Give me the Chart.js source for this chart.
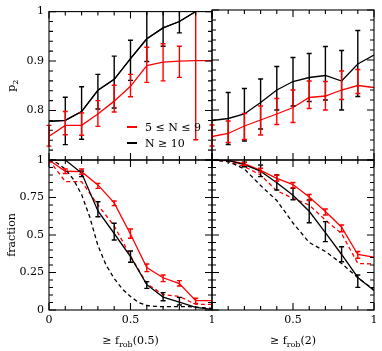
<!DOCTYPE html>
<html><head><meta charset="utf-8">
<script src="https://cdn.jsdelivr.net/npm/chart.js@4.4.1/dist/chart.umd.min.js"></script>
<style>
html,body{margin:0;padding:0;background:#fff;}
#wrap{position:relative;width:382px;height:351px;overflow:hidden;}
#wrap canvas{position:absolute;left:0;top:0;width:382px;height:351px;}
</style></head><body>
<div id="wrap">
<canvas id="cTL" width="382" height="351"></canvas>
<canvas id="cTR" width="382" height="351"></canvas>
<canvas id="cBL" width="382" height="351"></canvas>
<canvas id="cBR" width="382" height="351"></canvas>
</div>
<script>
// ---------- data ----------
const xGrid = [0, 0.1, 0.2, 0.3, 0.4, 0.5, 0.6, 0.7, 0.8, 0.9, 1.0];
const xFine = [0, 0.05, 0.1, 0.15, 0.2, 0.25, 0.3, 0.35, 0.4, 0.45, 0.5, 0.55, 0.6, 0.65, 0.7, 0.75, 0.8, 0.85, 0.9, 0.95, 1.0];
const legendLabels = ['5 \u2264 N \u2264 9', 'N \u2265 10'];

// top-left: p2 vs f_rob(0.5)
const p2Red05   = [0.748, 0.770, 0.770, 0.793, 0.819, 0.849, 0.891, 0.898, 0.900, 0.901, 0.901];
const p2Red05Lo = [0.728, 0.751, 0.750, 0.768, 0.797, 0.828, 0.857, 0.860, 0.867, 0.741, null];
const p2Red05Hi = [0.770, 0.798, 0.795, 0.820, 0.851, 0.873, 0.928, 0.935, 0.930, 1.060, null];
const p2Blk05   = [0.778, 0.780, 0.798, 0.841, 0.863, 0.905, 0.945, 0.967, 0.980, 1.000, 1.030];
const p2Blk05Lo = [null, 0.731, 0.742, 0.803, 0.805, 0.861, 0.899, 0.930, 0.957, null, null];
const p2Blk05Hi = [null, 0.827, 0.848, 0.873, 0.910, 0.942, 1.050, 1.050, 1.050, null, null];

// top-right: p2 vs f_rob(2)
const p2Red2   = [0.747, 0.753, 0.768, 0.780, 0.792, 0.805, 0.825, 0.828, 0.840, 0.849, 0.845];
const p2Red2Lo = [0.728, 0.735, 0.741, 0.750, 0.771, 0.775, 0.803, 0.800, 0.821, 0.833, null];
const p2Red2Hi = [0.770, 0.778, 0.793, 0.808, 0.823, 0.840, 0.858, 0.857, 0.878, 0.881, null];
const p2Blk2   = [0.779, 0.783, 0.792, 0.815, 0.840, 0.857, 0.865, 0.869, 0.858, 0.892, 0.910];
const p2Blk2Lo = [null, 0.731, 0.738, 0.762, 0.800, 0.808, 0.817, 0.820, 0.800, 0.827, null];
const p2Blk2Hi = [null, 0.835, 0.843, 0.862, 0.887, 0.905, 0.913, 0.927, 0.919, 0.959, null];

// bottom-left: fraction vs f_rob(0.5)
const fracRed05     = [1.0, 0.925, 0.922, 0.834, 0.714, 0.505, 0.283, 0.215, 0.176, 0.062, 0.062];
const fracRed05Lo   = [null, 0.910, 0.905, 0.811, 0.696, 0.478, 0.256, 0.189, 0.160, 0.044, null];
const fracRed05Hi   = [null, 0.940, 0.940, 0.844, 0.727, 0.540, 0.307, 0.233, 0.196, 0.078, null];
const fracRed05Dash = [1.0, 0.856, 0.856, 0.700, 0.560, 0.360, 0.175, 0.103, 0.090, 0.038, 0.038];
const fracBlk05     = [1.0, 1.0, 0.913, 0.660, 0.510, 0.356, 0.169, 0.086, 0.053, 0.018, 0.004];
const fracBlk05Lo   = [null, null, 0.889, 0.622, 0.467, 0.318, 0.144, 0.062, 0.033, null, null];
const fracBlk05Hi   = [null, null, 0.927, 0.722, 0.578, 0.393, 0.189, 0.116, 0.084, null, null];
const fracBlk05Dash = [1.0, 0.98, 0.94, 0.87, 0.77, 0.62, 0.43, 0.30, 0.21, 0.14, 0.09, 0.05, 0.03, 0.024, 0.022, 0.022, 0.022, 0.022, 0.02, 0.015, 0.01];

// bottom-right: fraction vs f_rob(2)
const fracRed2     = [1.0, 0.996, 0.975, 0.931, 0.878, 0.836, 0.753, 0.656, 0.552, 0.370, 0.353];
const fracRed2Lo   = [null, null, 0.965, 0.920, 0.860, 0.815, 0.730, 0.633, 0.522, 0.345, null];
const fracRed2Hi   = [null, null, 0.985, 0.945, 0.900, 0.850, 0.770, 0.673, 0.567, 0.390, null];
const fracRed2Dash = [1.0, 0.99, 0.956, 0.90, 0.795, 0.745, 0.70, 0.60, 0.51, 0.31, 0.307];
const fracBlk2     = [1.0, 0.997, 0.969, 0.925, 0.848, 0.765, 0.658, 0.516, 0.370, 0.217, 0.130];
const fracBlk2Lo   = [null, null, 0.955, 0.889, 0.800, 0.735, 0.582, 0.456, 0.322, 0.151, null];
const fracBlk2Hi   = [null, null, 0.985, 0.967, 0.900, 0.811, 0.733, 0.589, 0.422, 0.233, null];
const fracBlk2Dash = [1.0, 0.99, 0.94, 0.83, 0.73, 0.58, 0.45, 0.39, 0.31, 0.215, 0.135];

// tick labels
const p2TickLabels   = [0.8, 0.9, 1];
const fracTickLabels = [0, 0.25, 0.5, 0.75, 1];
const xTickLabelsL   = [0, 0.5, 1];
const xTickLabelsR   = [0.5, 1];

// axis titles (text, subscript flag)
const yTitleP2   = [['p', 0], ['2', 1]];
const yTitleFrac = [['fraction', 0]];
const xTitle05   = [['\u2265 f', 0], ['rob', 1], ['(0.5)', 0]];
const xTitle2    = [['\u2265 f', 0], ['rob', 1], ['(2)', 0]];

// ---------- rendering ----------
const FAM = '"DejaVu Serif", serif';
const MAIN_FONT = '11px ' + FAM;
const SUB_FONT = '8px ' + FAM;
Chart.defaults.font.family = FAM;
Chart.defaults.font.size = 11;
Chart.defaults.color = '#000';

const RED = '#ff0000', BLK = '#000000';
const pts = (xs, ys) => xs.map((x, i) => ({x: x, y: ys[i]}));

function drawRich(ctx, parts, cx, by) {
  let w = 0;
  const ws = parts.map(p => { ctx.font = p[1] ? SUB_FONT : MAIN_FONT; const m = ctx.measureText(p[0]).width; w += m; return m; });
  let x = cx - w / 2;
  ctx.textAlign = 'left'; ctx.textBaseline = 'alphabetic'; ctx.fillStyle = '#000';
  parts.forEach((p, i) => { ctx.font = p[1] ? SUB_FONT : MAIN_FONT; ctx.fillText(p[0], x, by + (p[1] ? 3 : 0)); x += ws[i]; });
}

const errPlugin = {
  id: 'errbars',
  afterDatasetsDraw(chart) {
    const {ctx, chartArea: a, scales: {x, y}} = chart;
    ctx.save();
    ctx.beginPath(); ctx.rect(a.left - 6, a.top, a.width + 12, a.height); ctx.clip();
    chart.data.datasets.forEach(ds => {
      if (!ds.errLo) return;
      ctx.strokeStyle = ds.borderColor; ctx.lineWidth = 1.4;
      ds.data.forEach((pt, i) => {
        const lo = ds.errLo[i], hi = ds.errHi[i];
        if (lo == null || hi == null) return;
        const px = x.getPixelForValue(pt.x), p1 = y.getPixelForValue(lo), p2 = y.getPixelForValue(hi);
        ctx.beginPath();
        ctx.moveTo(px, p1); ctx.lineTo(px, p2);
        ctx.moveTo(px - 2.5, p1); ctx.lineTo(px + 2.5, p1);
        ctx.moveTo(px - 2.5, p2); ctx.lineTo(px + 2.5, p2);
        ctx.stroke();
      });
    });
    ctx.restore();
  }
};

const framePlugin = {
  id: 'frame',
  afterDatasetsDraw(chart, args, o) {
    const {ctx, chartArea: a, scales: {x, y}} = chart;
    ctx.save();
    ctx.strokeStyle = '#000'; ctx.lineWidth = 1.1;
    ctx.strokeRect(a.left, a.top, a.width, a.height);
    ctx.beginPath();
    const isMaj = (v, m) => Math.abs(v / m - Math.round(v / m)) < 1e-6;
    let n = Math.round((x.max - x.min) / o.xMinor);
    for (let i = 0; i <= n; i++) {
      const v = x.min + i * o.xMinor, px = x.getPixelForValue(v);
      const L = isMaj(v, o.xMajor) ? 7 : 4;
      ctx.moveTo(px, a.bottom); ctx.lineTo(px, a.bottom - L);
      ctx.moveTo(px, a.top); ctx.lineTo(px, a.top + L);
    }
    n = Math.round((y.max - y.min) / o.yMinor);
    for (let i = 0; i <= n; i++) {
      const v = y.min + i * o.yMinor, py = y.getPixelForValue(v);
      const L = isMaj(v, o.yMajor) ? 7 : 4;
      ctx.moveTo(a.left, py); ctx.lineTo(a.left + L, py);
      ctx.moveTo(a.right, py); ctx.lineTo(a.right - L, py);
    }
    ctx.stroke();
    // axis titles
    if (o.yTitle) {
      ctx.save(); ctx.translate(15, (a.top + a.bottom) / 2); ctx.rotate(-Math.PI / 2);
      drawRich(ctx, o.yTitle, 0, 0); ctx.restore();
    }
    if (o.xTitle) drawRich(ctx, o.xTitle, (a.left + a.right) / 2, 344);
    // legend
    if (o.legend) {
      chart.data.datasets.filter(d => d.showInLegend).forEach((d, i) => {
        const ly = 127 + i * 16;
        ctx.strokeStyle = d.borderColor; ctx.lineWidth = 2;
        ctx.beginPath(); ctx.moveTo(127, ly); ctx.lineTo(137, ly); ctx.stroke();
        ctx.font = MAIN_FONT; ctx.fillStyle = '#000'; ctx.textAlign = 'left'; ctx.textBaseline = 'middle';
        ctx.fillText(d.label, 145, ly + 1);
      });
    }
    ctx.restore();
  }
};

function line(label, xs, ys, color, dashed, lo, hi, legend) {
  return {label: label, data: pts(xs, ys), borderColor: color, backgroundColor: color,
    borderWidth: 1.3, borderDash: dashed ? [4, 3] : [], pointRadius: 0, tension: 0, fill: false,
    clip: 0, errLo: lo || null, errHi: hi || null, showInLegend: !!legend};
}

function axisY(min, max, show, ticksArr) {
  const s = {type: 'linear', min: min, max: max, display: show};
  if (show) Object.assign(s, {
    afterFit: sc => { sc.width = 49; },
    afterBuildTicks: sc => { sc.ticks = ticksArr.map(v => ({value: v})); },
    grid: {display: false, drawTicks: false}, border: {display: false},
    ticks: {padding: 5, color: '#000', font: {family: FAM, size: 11}, callback: v => String(v)}
  });
  return s;
}
function axisX(show, ticksArr) {
  const s = {type: 'linear', min: 0, max: 1, display: show};
  if (show) Object.assign(s, {
    afterFit: sc => { sc.height = 41; },
    afterBuildTicks: sc => { sc.ticks = ticksArr.map(v => ({value: v})); },
    grid: {display: false, drawTicks: false}, border: {display: false},
    ticks: {padding: 4, maxRotation: 0, autoSkip: false, color: '#000', font: {family: FAM, size: 11}, callback: v => String(v)}
  });
  return s;
}

function make(id, datasets, padding, xs, ys, frameOpts) {
  return new Chart(document.getElementById(id), {
    type: 'line',
    data: {datasets: datasets},
    options: {
      responsive: false, animation: false, events: [],
      layout: {padding: padding},
      scales: {x: xs, y: ys},
      plugins: {legend: {display: false}, tooltip: {enabled: false}, frame: frameOpts}
    },
    plugins: [errPlugin, framePlugin]
  });
}

const topFrame = {xMinor: 0.1, xMajor: 0.5, yMinor: 0.02, yMajor: 0.1};
const botFrame = {xMinor: 0.1, xMajor: 0.5, yMinor: 0.05, yMajor: 0.25};

make('cTL', [
  line(legendLabels[1], xGrid, p2Blk05, BLK, false, p2Blk05Lo, p2Blk05Hi, false),
  line(legendLabels[0], xGrid, p2Red05, RED, false, p2Red05Lo, p2Red05Hi, true),
  line(legendLabels[1], xGrid, p2Blk05, BLK, false, null, null, true)
], {left: 0, top: 10, right: 170, bottom: 191}, axisX(false), axisY(0.7, 1, true, p2TickLabels),
  Object.assign({yTitle: yTitleP2, legend: true}, topFrame));

make('cTR', [
  line(legendLabels[1], xGrid, p2Blk2, BLK, false, p2Blk2Lo, p2Blk2Hi),
  line(legendLabels[0], xGrid, p2Red2, RED, false, p2Red2Lo, p2Red2Hi)
], {left: 212, top: 10, right: 8, bottom: 191}, axisX(false), axisY(0.7, 1, false), topFrame);

make('cBL', [
  line(legendLabels[1], xGrid, fracBlk05, BLK, false, fracBlk05Lo, fracBlk05Hi),
  line(legendLabels[1], xFine, fracBlk05Dash, BLK, true),
  line(legendLabels[0], xGrid, fracRed05, RED, false, fracRed05Lo, fracRed05Hi),
  line(legendLabels[0], xGrid, fracRed05Dash, RED, true)
], {left: 0, top: 160, right: 170, bottom: 0}, axisX(true, xTickLabelsL), axisY(0, 1, true, fracTickLabels),
  Object.assign({yTitle: yTitleFrac, xTitle: xTitle05}, botFrame));

make('cBR', [
  line(legendLabels[1], xGrid, fracBlk2, BLK, false, fracBlk2Lo, fracBlk2Hi),
  line(legendLabels[1], xGrid, fracBlk2Dash, BLK, true),
  line(legendLabels[0], xGrid, fracRed2, RED, false, fracRed2Lo, fracRed2Hi),
  line(legendLabels[0], xGrid, fracRed2Dash, RED, true)
], {left: 212, top: 160, right: 8, bottom: 0}, axisX(true, xTickLabelsR), axisY(0, 1, false),
  Object.assign({xTitle: xTitle2}, botFrame));
</script>
</body></html>
